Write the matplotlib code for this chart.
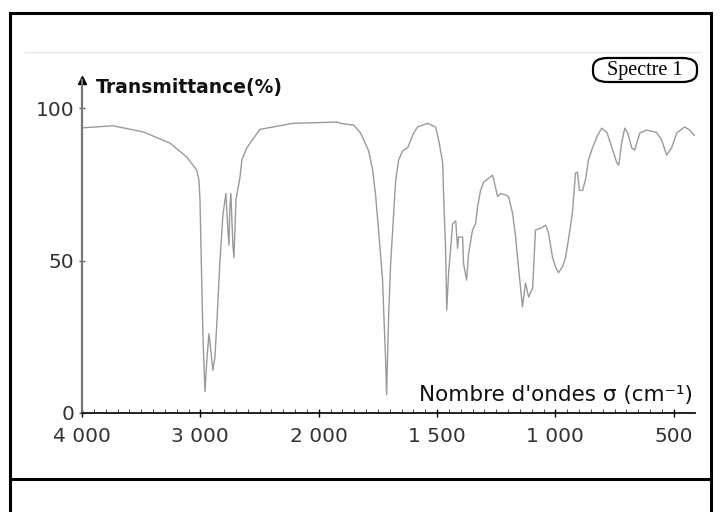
import numpy as np
import matplotlib
matplotlib.use("Agg")
import matplotlib.pyplot as plt
from matplotlib.lines import Line2D
from matplotlib.patches import FancyBboxPatch

# IR spectrum: wavenumber (cm-1) and transmittance (%)
sigma = [4000, 3740, 3485, 3257, 3116, 3031, 3012, 3003, 2995, 2978,
         2961, 2944, 2927, 2910, 2894, 2877, 2860, 2834, 2809, 2784,
         2767, 2758, 2750, 2742, 2725, 2716, 2699, 2666, 2649, 2606,
         2497, 2218, 1920, 1907, 1852, 1823, 1789, 1772, 1759, 1747,
         1730, 1725, 1717, 1713, 1704, 1696, 1683, 1675, 1662, 1645,
         1624, 1611, 1599, 1582, 1540, 1506, 1493, 1476, 1472, 1464,
         1459, 1451, 1434, 1421, 1413, 1409, 1392, 1388, 1375, 1367,
         1350, 1337, 1329, 1316, 1303, 1282, 1265, 1253, 1244, 1231,
         1210, 1198, 1181, 1168, 1156, 1139, 1126, 1113, 1096, 1084,
         1062, 1041, 1029, 1012, 999, 987, 970, 957, 945, 928,
         915, 907, 898, 885, 873, 860, 843, 822, 804, 782,
         761, 740, 732, 720, 707, 694, 677, 665, 643, 614,
         572, 551, 530, 509, 487, 454, 433, 412]
trans = [93.5, 94.2, 92.2, 88.5, 84.0, 79.7, 76.4, 70.0, 55.0, 25.0,
         7.0, 18.0, 26.0, 20.0, 14.0, 18.0, 30.0, 50.0, 65.0, 72.0,
         60.0, 55.0, 68.0, 72.0, 55.0, 51.0, 70.0, 77.0, 83.0, 87.0,
         93.0, 95.0, 95.4, 95.0, 94.4, 91.8, 86.0, 79.7, 71.0, 60.0,
         43.6, 32.8, 17.0, 6.0, 32.8, 49.0, 65.6, 76.0, 83.0, 86.0,
         87.0, 89.5, 91.8, 93.8, 95.0, 93.8, 89.5, 82.0, 71.0, 54.4,
         33.8, 46.0, 62.0, 63.0, 54.0, 57.7, 57.7, 49.0, 43.6, 52.0,
         60.0, 62.0, 67.5, 73.0, 75.7, 77.0, 78.0, 74.0, 71.0, 72.0,
         71.5, 71.0, 65.6, 57.7, 47.9, 34.8, 42.6, 38.0, 41.0, 60.0,
         60.6, 61.6, 59.0, 51.0, 47.9, 46.0, 47.9, 51.0, 56.7, 65.6,
         78.7, 79.0, 73.0, 73.0, 76.4, 83.0, 87.0, 91.0, 93.4, 92.0,
         87.0, 82.0, 81.3, 88.5, 93.4, 91.8, 86.9, 86.2, 91.8, 92.8,
         92.0, 89.5, 84.6, 86.9, 91.8, 93.8, 92.8, 91.0]

x_ticks = [4000, 3000, 2000, 1500, 1000, 500]
x_labels = ["4 000", "3 000", "2 000", "1 500", "1 000", "500"]
y_ticks = [0, 50, 100]


# split wavenumber scale: 1000 cm-1 per unit above 2000, 500 below
def fwd(s):
    s = np.asarray(s, dtype=float)
    return np.where(s >= 2000, s / 1000.0, s / 500.0 - 2.0)


def inv(g):
    g = np.asarray(g, dtype=float)
    return np.where(g >= 2, g * 1000.0, (g + 2.0) * 500.0)


W, H = 722, 512
fig = plt.figure(figsize=(W / 100, H / 100), dpi=100)
ax = fig.add_axes([82 / W, 1 - 413 / H, (695 - 82) / W, (413 - 80) / H])

ax.plot(sigma, trans, color="#9a9a9a", lw=1.0)

ax.set_xscale("function", functions=(fwd, inv))
ax.set_xlim(4000, 410)
ax.set_ylim(0, 109.2)

ax.set_xticks(x_ticks)
ax.set_xticklabels(x_labels)
minor = list(range(3900, 2000, -100)) + list(range(1950, 450, -50))
ax.set_xticks(minor, minor=True)
ax.set_yticks(y_ticks)
ax.set_yticklabels([str(v) for v in y_ticks])

for lab in ax.get_xticklabels() + ax.get_yticklabels():
    lab.set_fontfamily(["DejaVu Sans"])
    lab.set_fontsize(14.5)
    lab.set_color("#333333")

ax.tick_params(axis="x", which="major", direction="inout", length=6,
               width=1, pad=7)
ax.tick_params(axis="x", which="minor", direction="in", length=3,
               width=0.7, color="#444444")
ax.tick_params(axis="y", direction="inout", length=5, width=1, pad=3,
               color="#666666")

for side in ["top", "right"]:
    ax.spines[side].set_visible(False)
ax.spines["bottom"].set_linewidth(1.3)
ax.spines["bottom"].set_color("#111111")
ax.spines["left"].set_linewidth(1.6)
ax.spines["left"].set_color("#777777")
ax.patch.set_alpha(0)

# arrow head on the y axis
ax.plot(0, 1, marker="^", color="black", ms=6, transform=ax.transAxes,
        clip_on=False)

fig.text(96 / W, 1 - 88 / H, "Transmittance(%)", ha="left", va="center",
         fontsize=13.5, fontweight="bold", color="#111111",
         family=["DejaVu Sans"])
fig.text(693 / W, 1 - 401 / H, "Nombre d'ondes \u03c3 (cm\u207b\u00b9)",
         ha="right", va="baseline", fontsize=15.5, color="#111111",
         family=["DejaVu Sans"])

# "Spectre 1" label in a rounded box
box = FancyBboxPatch((593 / W, 1 - 82 / H), (697 - 593) / W, (82 - 58) / H,
                     boxstyle="round,pad=0,rounding_size=0.02",
                     transform=fig.transFigure, fill=False, ec="black",
                     lw=1.6)
fig.add_artist(box)
fig.text(645 / W, 1 - 70 / H, "Spectre 1", ha="center", va="center",
         fontsize=14.5, family="Liberation Serif", color="black")


# page frame
def fline(x0, y0, x1, y1, **kw):
    fig.add_artist(Line2D([x0 / W, x1 / W], [1 - y0 / H, 1 - y1 / H],
                          transform=fig.transFigure, **kw))


fline(10, 12.5, 711, 12.5, color="black", lw=2.2)
fline(10, 12.5, 10, 512, color="black", lw=2.2)
fline(711, 12.5, 711, 512, color="black", lw=2.2)
fline(10, 479, 711, 479, color="black", lw=2.2)
fline(25, 52, 700, 52, color="#e6e6e6", lw=1.0)

fig.savefig("out.png", dpi=100)
